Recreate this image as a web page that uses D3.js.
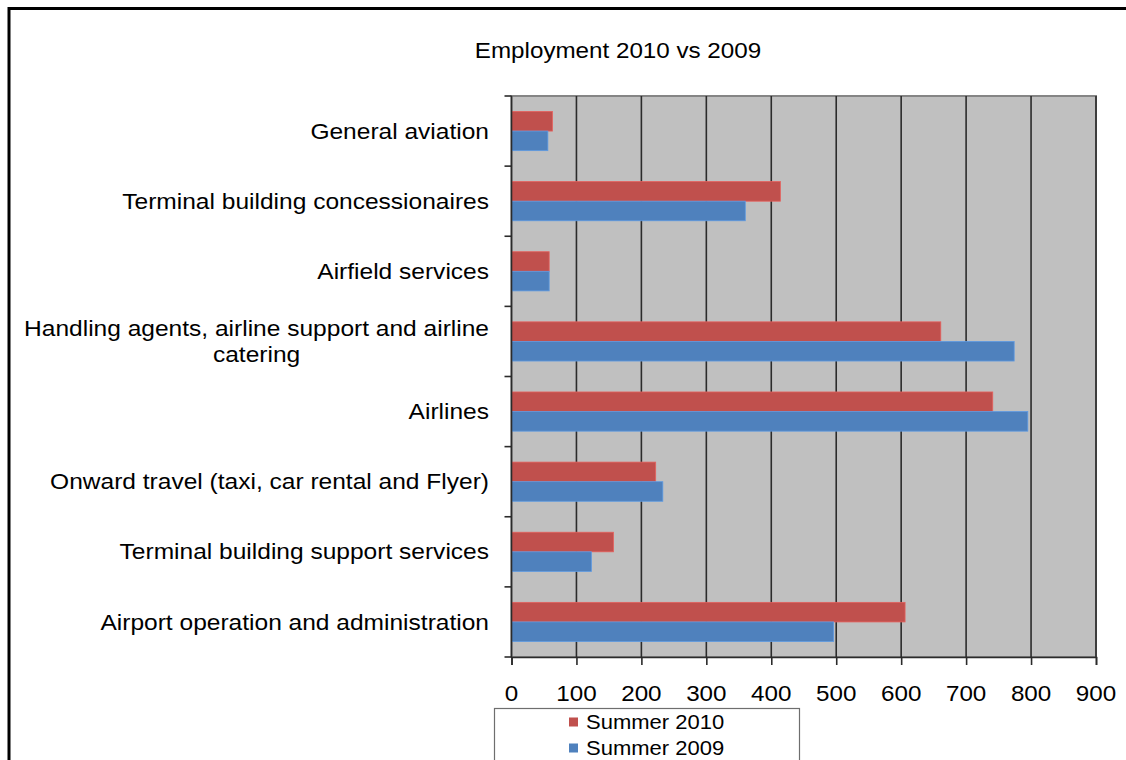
<!DOCTYPE html>
<html>
<head>
<meta charset="utf-8">
<script src="https://cdn.jsdelivr.net/npm/d3@7"></script>
<style>
  html, body { margin: 0; padding: 0; background: #fff; }
  svg { display: block; }
  text { font-family: "Liberation Sans", Arial, sans-serif; fill: #000; }
</style>
</head>
<body>
<svg id="chart" width="1126" height="760"></svg>
<script>
// Employment by sector, summer 2010 vs summer 2009
const categories = [
  "General aviation",
  "Terminal building concessionaires",
  "Airfield services",
  "Handling agents, airline support and airline|catering",
  "Airlines",
  "Onward travel (taxi, car rental and Flyer)",
  "Terminal building support services",
  "Airport operation and administration"
];
const seriesNames = ["Summer 2010", "Summer 2009"];
const summer2010 = [63, 414, 58, 661, 741, 222, 157, 606];
const summer2009 = [56, 360, 58, 774, 795, 233, 123, 496];
const xTicks = [0, 100, 200, 300, 400, 500, 600, 700, 800, 900];

const colors = { "Summer 2010": "#C0504D", "Summer 2009": "#4F81BD" };
const seriesValues = { "Summer 2010": summer2010, "Summer 2009": summer2009 };

const svg = d3.select("#chart");
const plot = { left: 511.5, right: 1096, top: 96, bottom: 657 };
const stretch = 1.1; // glyphs are drawn slightly wide

// text helper: places a horizontally widened label at (x, y)
function label(parent, x, y, str, size, anchor) {
  return parent.append("text")
    .attr("transform", `translate(${x},${y}) scale(${stretch},1)`)
    .attr("text-anchor", anchor || "start")
    .attr("dominant-baseline", "central")
    .style("font-size", size + "px")
    .text(str);
}

// outer chart frame
svg.append("rect")
  .attr("x", 9).attr("y", 8.5)
  .attr("width", 1130).attr("height", 770)
  .attr("fill", "none").attr("stroke", "#000").attr("stroke-width", 3);

// title
label(svg, 618, 50, "Employment 2010 vs 2009", 22, "middle");

const x = d3.scaleLinear().domain([0, 900]).range([plot.left, plot.right]);
const y0 = d3.scaleBand().domain(categories).range([plot.top, plot.bottom]).paddingInner(0).paddingOuter(0);
const y1 = d3.scaleBand().domain(seriesNames).range([0, y0.bandwidth()]).paddingInner(0).paddingOuter(0.79);

// plot background
svg.append("rect")
  .attr("x", plot.left).attr("y", plot.top)
  .attr("width", plot.right - plot.left).attr("height", plot.bottom - plot.top)
  .attr("fill", "#C0C0C0").attr("stroke", "#858585").attr("stroke-width", 2);

// vertical gridlines
svg.append("g")
  .selectAll("line")
  .data(xTicks.slice(1))
  .join("line")
  .attr("x1", d => x(d)).attr("x2", d => x(d))
  .attr("y1", plot.top).attr("y2", plot.bottom)
  .attr("stroke", "#2b2b2b").attr("stroke-width", 1.6);

// bars
const groups = svg.append("g")
  .selectAll("g")
  .data(categories)
  .join("g")
  .attr("transform", c => `translate(0,${y0(c)})`);

groups.selectAll("rect")
  .data((c, i) => seriesNames.map(s => ({ s, v: seriesValues[s][i] })))
  .join("rect")
  .attr("x", x(0))
  .attr("y", d => y1(d.s))
  .attr("width", d => x(d.v) - x(0))
  .attr("height", y1.bandwidth())
  .attr("fill", d => colors[d.s])
  .attr("stroke", d => d3.color(colors[d.s]).brighter(0.5))
  .attr("stroke-width", 0.8);

// category axis line and boundary ticks
svg.append("line")
  .attr("x1", plot.left).attr("x2", plot.left)
  .attr("y1", plot.top).attr("y2", plot.bottom)
  .attr("stroke", "#2b2b2b").attr("stroke-width", 1.6);
const bounds = categories.map(c => y0(c)).concat([plot.bottom]);
svg.append("g")
  .selectAll("line")
  .data(bounds)
  .join("line")
  .attr("x1", plot.left - 7).attr("x2", plot.left)
  .attr("y1", d => d).attr("y2", d => d)
  .attr("stroke", "#2b2b2b").attr("stroke-width", 1.6);

// category labels
const catLayer = svg.append("g");
const catSize = 22.3;
categories.forEach(c => {
  const lines = c.split("|");
  const cy = y0(c) + y0.bandwidth() / 2;
  const lh = 26;
  const top = cy - (lines.length - 1) * lh / 2;
  const first = label(catLayer, 489, top, lines[0], catSize, "end");
  if (lines.length > 1) {
    const w = first.node().getComputedTextLength() * stretch;
    for (let k = 1; k < lines.length; k++) {
      label(catLayer, 489 - w / 2, top + k * lh, lines[k], catSize, "middle");
    }
  }
});

// value axis
const xAxis = d3.axisBottom(x).tickValues(xTicks).tickSize(8).tickFormat("");
const xg = svg.append("g").attr("transform", `translate(0,${plot.bottom})`).call(xAxis);
xg.select(".domain").attr("stroke", "#2b2b2b").attr("stroke-width", 1.6);
xg.selectAll(".tick line").attr("stroke", "#2b2b2b").attr("stroke-width", 1.6);
xTicks.forEach(t => label(svg, x(t), 693, d3.format("d")(t), 22, "middle"));

// legend
const legend = svg.append("g");
legend.append("rect")
  .attr("x", 494.5).attr("y", 708.5)
  .attr("width", 305).attr("height", 80)
  .attr("fill", "#fff").attr("stroke", "#6e6e6e").attr("stroke-width", 1.2);
seriesNames.forEach((s, i) => {
  const ly = 722 + i * 26;
  legend.append("rect")
    .attr("x", 569).attr("y", ly - 4.5)
    .attr("width", 9).attr("height", 9)
    .attr("fill", colors[s]);
  label(legend, 586, ly, s, 20, "start");
});
</script>
</body>
</html>
